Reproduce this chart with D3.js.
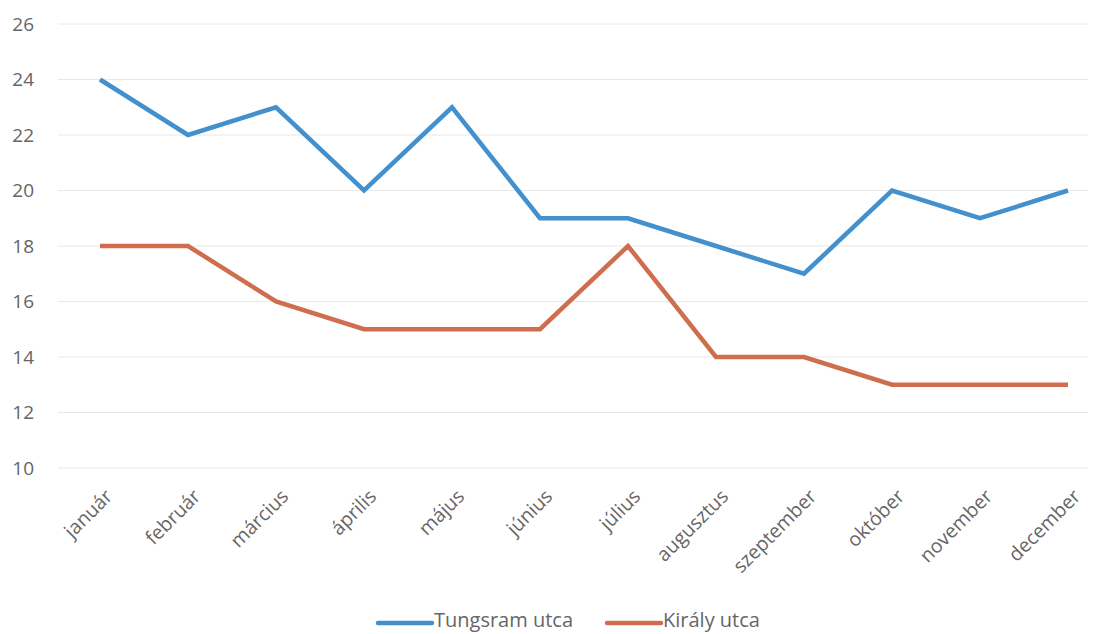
<!DOCTYPE html>
<meta charset="utf-8">
<style>
body { margin: 0; background: #fff; }
text { font-family: "Open Sans", sans-serif; fill: #666; }
</style>
<body>
<script src="https://d3js.org/d3.v7.min.js"></script>
<script>

var width = 1099,
    height = 634;

var months = ["január", "február", "március", "április", "május", "június",
              "július", "augusztus", "szeptember", "október", "november", "december"];
var tungsram = [24, 22, 23, 20, 23, 19, 19, 18, 17, 20, 19, 20];
var kiraly = [18, 18, 16, 15, 15, 15, 18, 14, 14, 13, 13, 13];
var yTicks = [10, 12, 14, 16, 18, 20, 22, 24, 26];

var seriesNames = ["Tungsram utca", "Király utca"];
var colors = ["#4290cd", "#cf6e4e"];

var svg = d3.select("body").append("svg")
    .attr("width", width)
    .attr("height", height);

var x = d3.scalePoint()
    .domain(months)
    .range([100, 1068]);

var y = d3.scaleLinear()
    .domain([10, 26])
    .range([468, 24]);

// grid
svg.append("g")
  .selectAll("line")
  .data(yTicks)
  .enter().append("line")
    .attr("x1", 58)
    .attr("x2", 1088)
    .attr("y1", function(d) { return y(d); })
    .attr("y2", function(d) { return y(d); })
    .attr("stroke", "#e8e8e8")
    .attr("stroke-width", 1);

// y labels
svg.append("g")
  .selectAll("text")
  .data(yTicks)
  .enter().append("text")
    .attr("x", 34)
    .attr("y", function(d) { return y(d); })
    .attr("dy", "0.35em")
    .attr("text-anchor", "end")
    .style("font-size", "19px")
    .text(function(d) { return d; });

// x labels
svg.append("g")
  .selectAll("text")
  .data(months)
  .enter().append("text")
    .attr("transform", function(d) { return "translate(" + (x(d) + 4) + ",488) rotate(-45)"; })
    .attr("text-anchor", "end")
    .attr("dy", "0.7em")
    .style("font-size", "19.5px")
    .text(function(d) { return d; });

var line = d3.line()
    .x(function(d, i) { return x(months[i]); })
    .y(function(d) { return y(d); });

[tungsram, kiraly].forEach(function(s, i) {
  svg.append("path")
    .datum(s)
    .attr("d", line)
    .attr("fill", "none")
    .attr("stroke", colors[i])
    .attr("stroke-width", 4.5)
    .attr("stroke-linejoin", "miter");
});

// legend
var legendX = [378, 607];
var lg = svg.append("g")
  .selectAll("g")
  .data(seriesNames)
  .enter().append("g")
    .attr("transform", function(d, i) { return "translate(" + legendX[i] + ",620)"; });

lg.append("line")
    .attr("x1", 0).attr("x2", 54)
    .attr("y1", 3).attr("y2", 3)
    .attr("stroke", function(d, i) { return colors[i]; })
    .attr("stroke-width", 4.5)
    .attr("stroke-linecap", "round");

lg.append("text")
    .attr("x", 56)
    .attr("dy", "0.35em")
    .style("font-size", "20px")
    .text(function(d) { return d; });

</script>
